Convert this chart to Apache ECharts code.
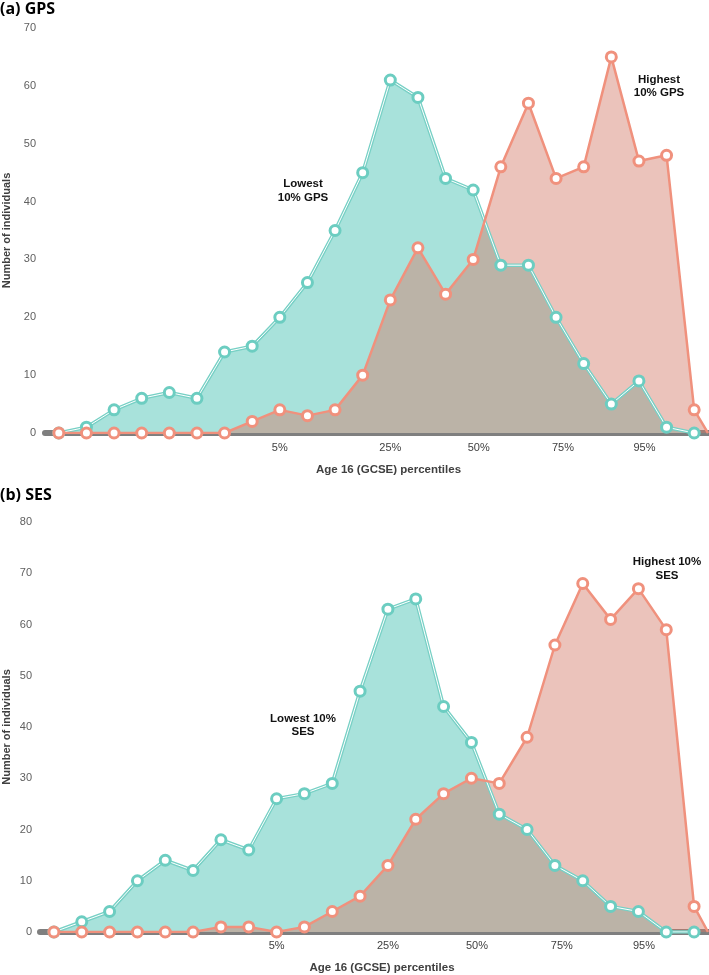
<!DOCTYPE html>
<html>
<head>
<meta charset="utf-8">
<script src="https://cdn.jsdelivr.net/npm/echarts@6/dist/echarts.min.js"></script>
<style>html,body{margin:0;padding:0;background:#fff}#c{width:709px;height:975px}</style>
</head>
<body>
<div id="c"></div>
<script>
// bins (index positions along the percentile axis)
const bins = [0,1,2,3,4,5,6,7,8,9,10,11,12,13,14,15,16,17,18,19,20,21,22,23];
const tailX = 23.5; // upper edge where the highest group returns to zero
// (a) GPS
const gpsLowest  = [0,1,4,6,7,6,14,15,20,26,35,45,61,58,44,42,29,29,20,12,5,9,1,0];
const gpsHighest = [0,0,0,0,0,0,0,2,4,3,4,10,23,32,24,30,46,57,44,46,65,47,48,4];
// (b) SES
const sesLowest  = [0,2,4,10,14,12,18,16,26,27,29,47,63,65,44,37,23,20,13,10,5,4,0,0];
const sesHighest = [0,0,0,0,0,0,1,1,0,1,4,7,13,22,27,30,29,38,56,68,61,67,59,5];
// percentile tick labels and where they fall on the bin axis
const tickLabels = ['5%','25%','50%','75%','95%'];
const tickPos = [8, 12, 15.2, 18.25, 21.2];

const TEAL_FILL = '#a8e2db', TEAL_LINE = '#77d0c5', TEAL_MARK = '#6ccdc1';
const PINK_LINE = '#f0917d', PINK_FILL = 'rgba(211,122,104,0.45)';

function pairs(vals){ return vals.map((v,i)=>[bins[i], v]); }
function pinkPairs(vals){ return pairs(vals).concat([{value:[tailX,0], symbol:'none'}]); }

function seriesFor(gi, low, high){
  const base = {type:'line', xAxisIndex:gi, yAxisIndex:gi, animation:false, silent:true};
  return [
    Object.assign({}, base, {data:pairs(low), symbol:'none', lineStyle:{width:0}, areaStyle:{color:TEAL_FILL, opacity:1}, z:1}),
    Object.assign({}, base, {data:pinkPairs(high), symbol:'none', lineStyle:{width:0}, areaStyle:{color:PINK_FILL, opacity:1}, z:2}),
    Object.assign({}, base, {data:pairs(low), symbol:'none', lineStyle:{width:3.5, color:TEAL_LINE}, z:3}),
    Object.assign({}, base, {data:pairs(low), symbol:'none', lineStyle:{width:1, color:'#ffffff'}, z:4}),
    Object.assign({}, base, {data:pairs(low), symbol:'circle', symbolSize:10, showAllSymbol:true,
      lineStyle:{width:0, opacity:0}, itemStyle:{color:'#ffffff', borderColor:TEAL_MARK, borderWidth:3}, z:5}),
    Object.assign({}, base, {data:pinkPairs(high), symbol:'circle', symbolSize:10, showAllSymbol:true,
      lineStyle:{width:2.5, color:PINK_LINE}, itemStyle:{color:'#ffffff', borderColor:PINK_LINE, borderWidth:3}, z:6})
  ];
}

function xAxisFor(gi, margin, nameGap, pad){
  return {
    type:'value', gridIndex:gi, min:-0.5, max:tailX,
    axisLine:{show:true, onZero:false, lineStyle:{color:'#7f7f7f', width:6}},
    axisTick:{show:false}, splitLine:{show:false},
    axisLabel:{customValues:tickPos, margin:margin, color:'#404040', fontSize:11, fontFamily:'Liberation Sans',
      formatter:(v)=>{ const k = tickPos.indexOf(v); return k>=0 ? tickLabels[k] : ''; }},
    name:'Age 16 (GCSE) percentiles', nameLocation:'middle', nameGap:nameGap, nameMoveOverlap:false,
    nameTextStyle:{fontWeight:'bold', fontSize:11.5, color:'#404040', fontFamily:'Liberation Sans', padding:[0,0,0,pad]}
  };
}
function yAxisFor(gi, max, margin, nameGap){
  return {
    type:'value', gridIndex:gi, min:0, max:max, interval:10,
    axisLine:{show:false}, axisTick:{show:false}, splitLine:{show:false},
    axisLabel:{margin:margin, color:'#606060', fontSize:11, fontFamily:'Liberation Sans'},
    name:'Number of individuals', nameLocation:'middle', nameGap:nameGap, nameMoveOverlap:false,
    nameTextStyle:{fontWeight:'bold', fontSize:11, color:'#404040', fontFamily:'Liberation Sans'}
  };
}

const chart = echarts.init(document.getElementById('c'));
const lbl = (text, x, y, lh) => ({type:'text', silent:true, style:{text:text, x:x, y:y, textAlign:'center', textVerticalAlign:'middle',
  font:'bold 11.5px "Liberation Sans"', fill:'#111', lineHeight:lh}});
chart.setOption({
  backgroundColor:'#ffffff',
  grid:[
    {left:45, right:1, top:28, bottom:542, outerBoundsMode:'none', containLabel:false},
    {left:40, right:1, top:522, bottom:43, outerBoundsMode:'none', containLabel:false}
  ],
  xAxis:[xAxisFor(0, 9, 31, 24), xAxisFor(1, 8, 30, 16)],
  yAxis:[yAxisFor(0, 70, 9, 33), yAxisFor(1, 80, 8, 28)],
  series: seriesFor(0, gpsLowest, gpsHighest).concat(seriesFor(1, sesLowest, sesHighest)),
  graphic:[
    {type:'text', silent:true, style:{text:'(a) GPS', x:0, y:9, textVerticalAlign:'middle', font:'bold 16px "Open Sans"', fill:'#000'}},
    {type:'text', silent:true, style:{text:'(b) SES', x:0, y:495, textVerticalAlign:'middle', font:'bold 16px "Open Sans"', fill:'#000'}},
    lbl('Lowest\n10% GPS', 303, 191, 14),
    lbl('Highest\n10% GPS', 659, 86.5, 13.5),
    lbl('Lowest 10%\nSES', 303, 725.5, 13.5),
    lbl('Highest 10%\nSES', 667, 569, 14)
  ]
});
</script>
</body>
</html>
